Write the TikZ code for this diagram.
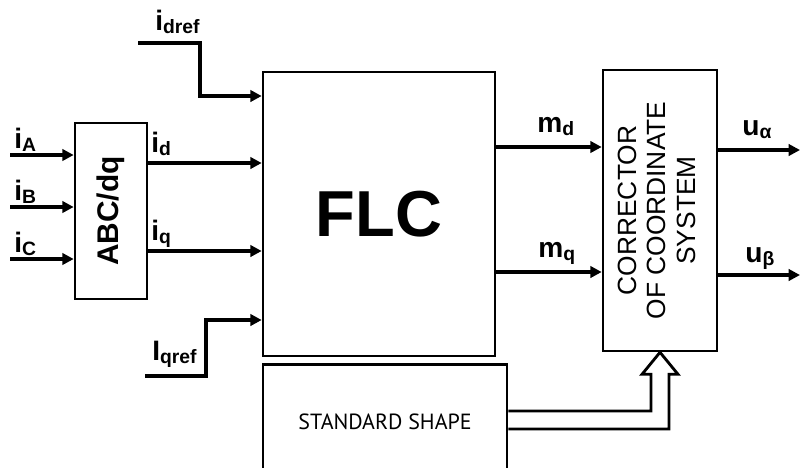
\documentclass[tikz,border=0pt]{standalone}
\usepackage{fontspec}
\usepackage{graphicx}
\setmainfont{Liberation Sans}
\newfontfamily\shapefont{PT Sans}
\usetikzlibrary{arrows.meta,calc}

\newcommand{\lsub}[1]{\raisebox{-2pt}{\fontsize{11}{12}\selectfont #1}}

\begin{document}
\begin{tikzpicture}[
  x=0.02cm, y=-0.02cm,
  block/.style={draw, line width=1.5pt, inner sep=0pt},
  sig/.style={line width=2pt, -{Triangle[length=6.5pt,width=6.5pt]}},
  lbl/.style={font=\fontsize{16}{18}\selectfont\bfseries, anchor=base west, inner sep=0pt},
  hollow/.style={line width=1.6pt, line join=miter},
]
\useasboundingbox (0,0) rectangle (800,467);

% blocks
\node[block, minimum width=1.44cm, minimum height=3.52cm] (abc) at (111,211)
  {\rotatebox{90}{\fontsize{17}{20}\selectfont\bfseries ABC/dq}};
\node[block, minimum width=4.64cm, minimum height=5.68cm] (flc) at (379,214)
  {\fontsize{37}{40}\selectfont\bfseries FLC};
\node[block, minimum width=2.28cm, minimum height=5.62cm] (corr) at (660,210.5)
  {\rotatebox{90}{\fontsize{15}{16.7}\selectfont
   \begin{tabular}{@{}c@{}}CORRECTOR\\OF COORDINATE\\SYSTEM\end{tabular}}};
\node[block, minimum width=4.88cm, minimum height=2.3cm] (std) at (385,422)
  {\shapefont\fontsize{12.5}{14}\selectfont STANDARD SHAPE};

% free ends of the signals
\coordinate (ia) at (10,155);
\coordinate (ib) at (10,207);
\coordinate (ic) at (10,259);
\coordinate (dref) at (138,43);
\coordinate (qref) at (145,376);
\coordinate (ua) at (800,150);
\coordinate (ub) at (800,275);

% inputs to ABC/dq
\draw[sig] (ia) -- (ia -| abc.west);
\draw[sig] (ib) -- (ib -| abc.west);
\draw[sig] (ic) -- (ic -| abc.west);

% into the FLC
\draw[sig] (abc.east |- 0,163) -- (flc.west |- 0,163);
\draw[sig] (abc.east |- 0,251) -- (flc.west |- 0,251);
\draw[sig] (dref) -- (200,43) |- (flc.west |- 0,96);
\draw[sig] (qref) -- (206,376) |- (flc.west |- 0,320);

% FLC to corrector, corrector outputs
\draw[sig] (flc.east |- 0,147) -- (corr.west |- 0,147);
\draw[sig] (flc.east |- 0,272) -- (corr.west |- 0,272);
\draw[sig] (corr.east |- ua) -- (ua);
\draw[sig] (corr.east |- ub) -- (ub);

% hollow arrow from the standard shape
\draw[hollow] (std.east |- 0,411) -| ($(corr.south)+(-9,22)$) -- ++(-9,0)
  -- (corr.south) -- ($(corr.south)+(18,22)$) -- ++(-9,0) |- (std.east |- 0,429);

% signal labels
\node[lbl] (la) at (14,148) {i\lsub{A}};
\node[lbl] (lb) at (14,200) {i\lsub{B}};
\node[lbl] (lc) at (14,252) {i\lsub{C}};
\node[lbl] (ld) at (151,152) {i\lsub{d}};
\node[lbl] (lq) at (151,240) {i\lsub{q}};
\node[lbl] (ldref) at (155,30) {i\lsub{dref}};
\node[lbl] (lqref) at (152,360) {I\lsub{qref}};
\node[lbl] (lmd) at (537,132) {m\lsub{d}};
\node[lbl] (lmq) at (538,257) {m\lsub{q}};
\node[lbl] (lua) at (742,135) {u\lsub{α}};
\node[lbl] (lub) at (745,262) {u\lsub{β}};
\end{tikzpicture}
\end{document}
